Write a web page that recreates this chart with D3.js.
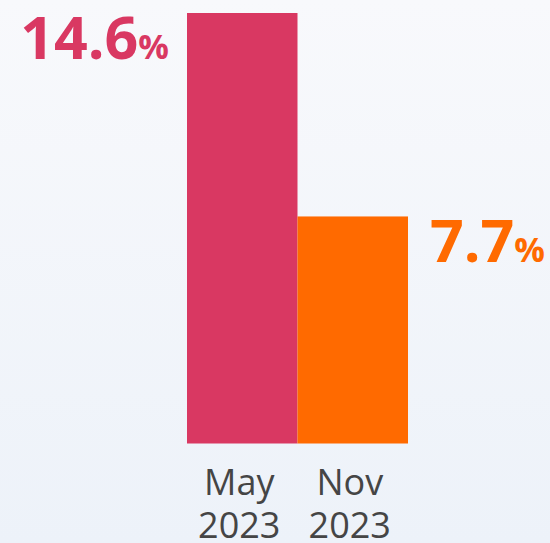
<!DOCTYPE html>
<html>
<head>
<meta charset="utf-8">
<script src="https://cdn.jsdelivr.net/npm/d3@7"></script>
<style>
  html, body { margin: 0; padding: 0; }
  body { width: 550px; height: 543px; overflow: hidden; }
</style>
</head>
<body>
<div id="chart"></div>
<script>
const categories = ['May 2023', 'Nov 2023'];
const values = [14.6, 7.7];
const colors = ['#d93862', '#ff6a00'];

const width = 550, height = 543;
const svg = d3.select('#chart').append('svg')
  .attr('width', width)
  .attr('height', height);

const grad = svg.append('defs').append('linearGradient')
  .attr('id', 'bg').attr('x1', 0).attr('y1', 0).attr('x2', 0).attr('y2', 1);
grad.append('stop').attr('offset', '0%').attr('stop-color', '#f8f9fc');
grad.append('stop').attr('offset', '100%').attr('stop-color', '#edf2f9');
svg.append('rect').attr('width', width).attr('height', height).attr('fill', 'url(#bg)');

const x = d3.scaleBand().domain(categories).range([187, 408]).padding(0);
const y = d3.scaleLinear().domain([0, 14.6]).range([443.5, 13]);

svg.append('g').selectAll('rect')
  .data(values).enter().append('rect')
  .attr('x', (d, i) => x(categories[i]))
  .attr('y', d => y(d))
  .attr('width', x.bandwidth())
  .attr('height', d => y(0) - y(d))
  .attr('fill', (d, i) => colors[i]);

// value labels: first to the left of its bar, second to the right
const lbl = svg.append('g').selectAll('text')
  .data(values).enter().append('text')
  .attr('x', (d, i) => i === 0 ? x(categories[i]) - 18 : x(categories[i]) + x.bandwidth() + 22)
  .attr('y', d => y(d) + 46)
  .attr('text-anchor', (d, i) => i === 0 ? 'end' : 'start')
  .attr('fill', (d, i) => colors[i])
  .attr('font-family', '"Open Sans", sans-serif')
  .attr('font-weight', 700);
lbl.append('tspan').attr('font-size', 59).text(d => d.toFixed(1));
lbl.append('tspan').attr('font-size', 34).text('%');

// category labels on two lines
const cx = d => x(d) + x.bandwidth() / 2 - 3;
const cat = svg.append('g').selectAll('text')
  .data(categories).enter().append('text')
  .attr('x', cx)
  .attr('y', 495)
  .attr('text-anchor', 'middle')
  .attr('fill', '#454545')
  .attr('font-family', '"Open Sans", sans-serif')
  .attr('font-size', 36);
cat.each(function(d) {
  const parts = d.split(' ');
  const t = d3.select(this);
  t.append('tspan').attr('x', cx(d)).text(parts[0]);
  t.append('tspan').attr('x', cx(d)).attr('dy', 43).text(parts[1]);
});
</script>
</body>
</html>
